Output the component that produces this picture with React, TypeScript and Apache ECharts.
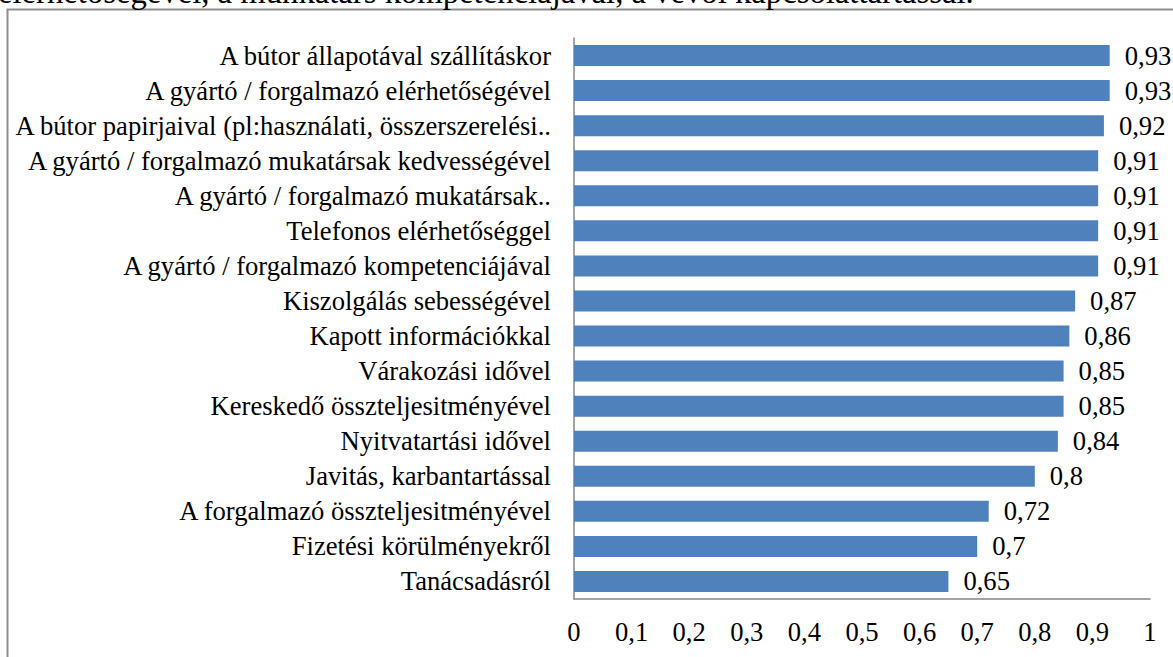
import React, { useEffect, useRef } from "react";
import * as echarts from "echarts";

const categories: string[] = [
  "A bútor állapotával szállításkor",
  "A gyártó / forgalmazó elérhetőségével",
  "A bútor papirjaival (pl:használati, összerszerelési..",
  "A gyártó / forgalmazó mukatársak kedvességével",
  "A gyártó / forgalmazó mukatársak..",
  "Telefonos elérhetőséggel",
  "A gyártó / forgalmazó kompetenciájával",
  "Kiszolgálás sebességével",
  "Kapott információkkal",
  "Várakozási idővel",
  "Kereskedő összteljesitményével",
  "Nyitvatartási idővel",
  "Javitás, karbantartással",
  "A forgalmazó összteljesitményével",
  "Fizetési körülményekről",
  "Tanácsadásról",
];

const values: number[] = [0.93, 0.93, 0.92, 0.91, 0.91, 0.91, 0.91, 0.87, 0.86, 0.85, 0.85, 0.84, 0.8, 0.72, 0.7, 0.65];

const topText = "elérhetőségével, a munkatárs kompetenciájával, a vevői kapcsolattartással.";

const FONT = "Liberation Serif";
const FS = 26.6;
const comma = (v: number) => String(v).replace(".", ",");

export default function App() {
  const ref = useRef<HTMLDivElement>(null);
  useEffect(() => {
    if (!ref.current) return;
    const chart = echarts.init(ref.current, undefined, { renderer: "svg" });
    chart.setOption({
      animation: false,
      backgroundColor: "#ffffff",
      textStyle: { fontFamily: FONT },
      graphic: [
        {
          type: "rect",
          shape: { x: 7.5, y: 9.5, width: 1300, height: 800 },
          style: { fill: "none", stroke: "#8e8e8e", lineWidth: 2 },
          silent: true,
        },
        {
          type: "text",
          x: -2,
          y: 8,
          style: {
            text: topText,
            fontFamily: FONT,
            fontSize: 32.7,
            fill: "#000",
            textAlign: "left",
            textVerticalAlign: "bottom",
          },
          silent: true,
        },
      ],
      grid: { left: 574, right: 23, top: 38, bottom: 58, containLabel: false },
      xAxis: {
        type: "value",
        min: 0,
        max: 1,
        interval: 0.1,
        axisLine: { show: true, lineStyle: { color: "#868686", width: 1.5 } },
        axisTick: { show: false },
        splitLine: { show: false },
        axisLabel: {
          color: "#000",
          fontFamily: FONT,
          fontSize: FS,
          margin: 19,
          formatter: (v: number) => comma(Math.round(v * 10) / 10),
        },
      },
      yAxis: {
        type: "category",
        data: categories,
        inverse: true,
        axisLine: { show: true, lineStyle: { color: "#868686", width: 1.5 } },
        axisTick: { show: false },
        axisLabel: {
          interval: 0,
          color: "#000",
          fontFamily: FONT,
          fontSize: FS,
          margin: 23,
        },
      },
      series: [
        {
          type: "bar",
          data: values,
          barWidth: 21,
          itemStyle: { color: "#4f81bd" },
          label: {
            show: true,
            position: "right",
            distance: 15,
            color: "#000",
            fontFamily: FONT,
            fontSize: FS,
            formatter: (p: any) => comma(p.value),
          },
        },
      ],
    });
    return () => chart.dispose();
  }, []);
  return (
    <div
      ref={ref}
      style={{ position: "absolute", left: 0, top: 0, width: 1173, height: 657 }}
    />
  );
}
